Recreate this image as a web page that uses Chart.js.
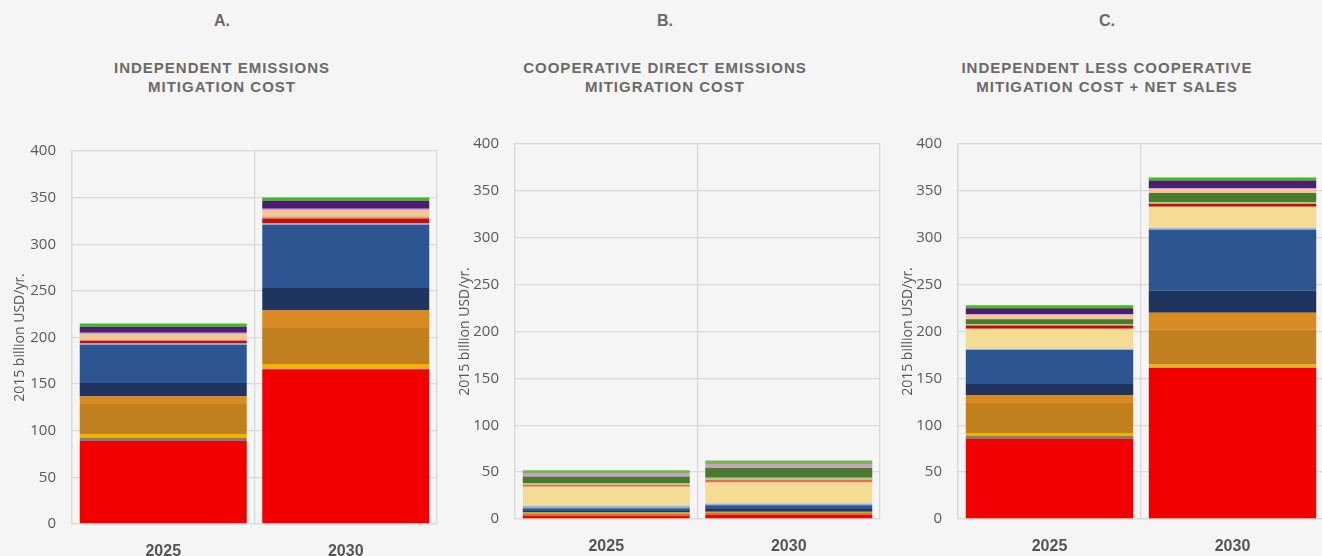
<!DOCTYPE html>
<html lang="en">
<head>
  <meta charset="UTF-8" />
  <title>Mitigation cost comparison</title>
  <script src="https://cdn.jsdelivr.net/npm/chart.js"></script>
  <style>
    html, body {
      margin: 0;
      padding: 0;
      width: 1322px;
      height: 556px;
      background: #f5f5f5;
      overflow: hidden;
      position: relative;
    }
    .panel {
      position: absolute;
    }
    .heading {
      position: absolute;
      width: 400px;
      text-align: center;
      font-family: "Liberation Sans", Arial, Helvetica, sans-serif;
      font-weight: bold;
      color: #6a6a6a;
    }
    .letter {
      top: 12px;
      font-size: 16px;
    }
    .title {
      top: 58px;
      font-size: 15px;
      line-height: 19px;
      letter-spacing: 1px;
    }
  </style>
</head>
<body>
  <div class="heading letter" style="left:22px">A.</div>
  <div class="heading title" style="left:22px">INDEPENDENT EMISSIONS<br>MITIGATION COST</div>
  <div class="heading letter" style="left:465px">B.</div>
  <div class="heading title" style="left:465px">COOPERATIVE DIRECT EMISSIONS<br>MITIGRATION COST</div>
  <div class="heading letter" style="left:907px">C.</div>
  <div class="heading title" style="left:907px">INDEPENDENT LESS COOPERATIVE<br>MITIGATION COST + NET SALES</div>

  <div class="panel" style="left:0px;top:126px;width:445px;height:432px"><canvas id="chartA"></canvas></div>
  <div class="panel" style="left:445px;top:119px;width:443px;height:434px"><canvas id="chartB"></canvas></div>
  <div class="panel" style="left:888px;top:119px;width:444px;height:434px"><canvas id="chartC"></canvas></div>

  <script>
    const categories = ['2025', '2030'];
    const yTicks = [0, 50, 100, 150, 200, 250, 300, 350, 400];

    // stack segments, bottom to top
    const segmentNames = [
      'Red', 'Gray', 'Gold', 'Brown', 'Orange', 'Navy', 'Blue', 'Light blue',
      'Light yellow', 'Salmon', 'Dark red', 'Tan', 'Light green', 'Dark green',
      'Peach', 'Lilac', 'Purple', 'Bright green', 'Pale green'
    ];
    const segmentColors = [
      '#f20000', '#7f7f7f', '#f0b400', '#c27f1e', '#d98a22', '#1f355f', '#2c5591', '#9db4d9',
      '#f4dc94', '#e2704f', '#cc0a0a', '#c9a96a', '#a8cf8c', '#4a7a2e',
      '#f3c59a', '#d49bd1', '#4b1f6e', '#3dbd1e', '#7bb452'
    ];

    // values, 2015 billion USD/yr., same order as segmentNames
    const panelA2025 = [89, 3.2, 4.3, 32.2, 8.6, 13.9, 41, 1.3, 0, 0, 3, 1, 0, 0, 6, 1.5, 6.5, 3.5, 0];
    const panelA2030 = [166, 0.5, 5, 38.6, 19.3, 23.6, 68, 1.2, 0, 0, 5.5, 2, 0, 0, 7, 1.5, 8.5, 3.5, 0];
    const panelB2025 = [3.5, 0, 0, 2.4, 1.2, 1.5, 3, 2.5, 20.3, 2.1, 0, 0, 1.8, 7.1, 0, 2.8, 0, 0, 3.8];
    const panelB2030 = [4.3, 0, 0, 2.3, 1.2, 3, 4, 1.8, 22.4, 3, 0, 0, 2, 10.5, 0, 3.5, 0, 0, 4.5];
    const panelC2025 = [85.3, 3.2, 3.2, 32, 8.5, 11.7, 36.3, 1.5, 21.3, 0, 3.5, 0, 1.3, 5.3, 4.3, 1, 6.4, 3.2, 0];
    const panelC2030 = [161, 0.5, 3.2, 37.3, 18.1, 23.5, 65, 2, 22.4, 0, 3.2, 0, 2, 9.5, 4, 1, 8.5, 3.2, 0];

    const gridColor = '#d9d9d9';

    function makeChart(id, v2025, v2030, yWidth) {
      const datasets = segmentNames.map((name, i) => ({
        label: name,
        data: [v2025[i], v2030[i]],
        backgroundColor: segmentColors[i],
        borderWidth: 0,
        barPercentage: 0.915,
        categoryPercentage: 1
      }));
      return new Chart(document.getElementById(id), {
        type: 'bar',
        data: { labels: categories, datasets: datasets },
        options: {
          responsive: true,
          maintainAspectRatio: false,
          animation: false,
          layout: { padding: { left: 8, right: 8, top: 12, bottom: 0 } },
          plugins: { legend: { display: false }, tooltip: { enabled: false } },
          scales: {
            x: {
              stacked: true,
              afterFit: s => { s.height = 34; },
              grid: { color: gridColor, lineWidth: 1.3, offset: true, drawTicks: false },
              border: { color: gridColor, width: 1.3 },
              ticks: {
                padding: 18,
                color: '#555',
                font: { family: '"Liberation Sans", Arial, sans-serif', size: 16, weight: 'bold' }
              }
            },
            y: {
              stacked: true,
              min: 0,
              max: 400,
              afterFit: s => { s.width = yWidth; },
              afterBuildTicks: s => { s.ticks = yTicks.map(v => ({ value: v })); },
              grid: { color: gridColor, lineWidth: 1.3, drawTicks: false },
              border: { color: gridColor, width: 1.3 },
              ticks: {
                padding: 16,
                color: '#595959',
                font: { family: '"Open Sans", sans-serif', size: 15 }
              },
              title: {
                display: true,
                text: '2015 billion USD/yr.',
                color: '#595959',
                padding: { top: 4, bottom: 4 },
                font: { family: '"Open Sans", sans-serif', size: 14 }
              }
            }
          }
        }
      });
    }

    makeChart('chartA', panelA2025, panelA2030, 64);
    makeChart('chartB', panelB2025, panelB2030, 62);
    makeChart('chartC', panelC2025, panelC2030, 62);
  </script>
</body>
</html>
